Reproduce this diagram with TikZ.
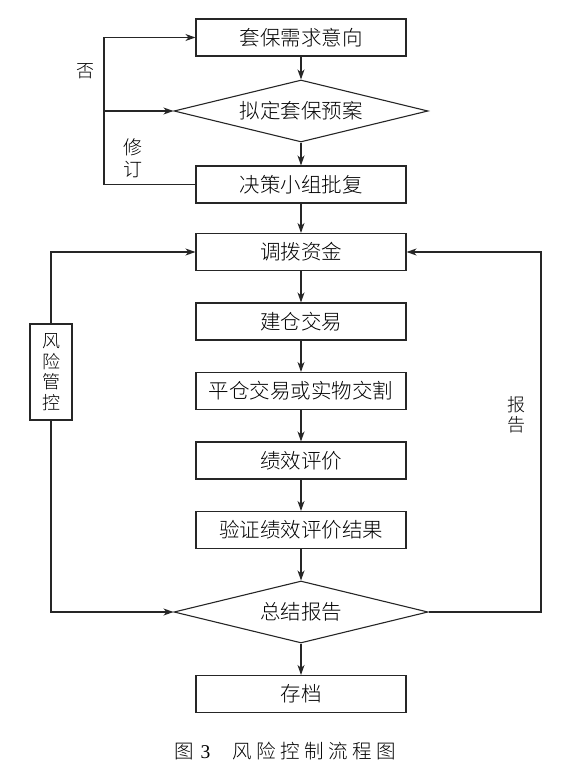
\documentclass[tikz,border=0pt]{standalone}
\usepackage{fontspec}
\setmainfont{Liberation Serif}
\newfontfamily\cjk{Noto Sans CJK SC Light}
\usetikzlibrary{shapes.geometric,arrows.meta}
\begin{document}
\begin{tikzpicture}[x=1pt,y=-1pt,
 line/.style={line width=1.1pt, draw=black!85},
 arr/.style={line, -{Stealth[length=10pt,width=7pt,inset=3pt]}},
 box/.style={line, rectangle, minimum width=210pt, minimum height=37pt, inner sep=0pt, font=\cjk\fontsize{20.5}{24}\selectfont},
 dia/.style={line, diamond, minimum width=254pt, minimum height=62pt, aspect=4, inner sep=0pt, font=\cjk\fontsize{20.5}{24}\selectfont},
 lbl/.style={font=\cjk\fontsize{18}{20}\selectfont, align=center, inner sep=0pt}]
\useasboundingbox (0,0) rectangle (587,775);

\node[box] (b1) at (301,37.5) {套保需求意向};
\node[dia] (d1) at (301,111) {拟定套保预案};
\node[box] (b3) at (301,184.5) {决策小组批复};
\node[box] (b4) at (301,252) {调拨资金};
\node[box] (b5) at (301,321.5) {建仓交易};
\node[box] (b6) at (301,391) {平仓交易或实物交割};
\node[box] (b7) at (301,460.5) {绩效评价};
\node[box] (b8) at (301,530) {验证绩效评价结果};
\node[dia] (d2) at (301,612) {总结报告};
\node[box] (b9) at (301,694) {存档};

\node[line, rectangle, minimum width=42pt, minimum height=96pt, inner sep=0pt,
  font=\cjk\fontsize{18}{20.7}\selectfont, align=center] (risk) at (51,372) {风\\险\\管\\控};

\coordinate (L) at (104,0);
\coordinate (R) at (541,0);

\draw[arr] (b1) -- (d1);
\draw[arr] (d1) -- (b3);
\draw[arr] (b3) -- (b4);
\draw[arr] (b4) -- (b5);
\draw[arr] (b5) -- (b6);
\draw[arr] (b6) -- (b7);
\draw[arr] (b7) -- (b8);
\draw[arr] (b8) -- (d2);
\draw[arr] (d2) -- (b9);

\draw[arr] (b3.west) -- (b3.west -| L) -- (b1.west -| L) -- (b1.west);
\draw[arr] (d1.west -| L) -- (d1.west);

\draw[arr] (risk.north) |- (b4.west);
\draw[arr] (risk.south) |- (d2.west);
\draw[arr] (d2.east) -- (d2.east -| R) -- (b4.east -| R) -- (b4.east);

\node[lbl] (no) at (85,71) {否};
\node[lbl, font=\cjk\fontsize{19}{22}\selectfont] (rev) at (133,158) {修\\订};
\node[lbl, font=\cjk\fontsize{18}{20}\selectfont] (rep) at (516,415) {报\\告};

\node[inner sep=0pt, font=\fontsize{19.5}{22}\selectfont] (cap) at (285,751)
  {{\cjk 图}\hspace{7pt}3\hspace{22pt}{\cjk 风\hspace{4.5pt}险\hspace{4.5pt}控\hspace{4.5pt}制\hspace{4.5pt}流\hspace{4.5pt}程\hspace{4.5pt}图}};
\end{tikzpicture}
\end{document}
